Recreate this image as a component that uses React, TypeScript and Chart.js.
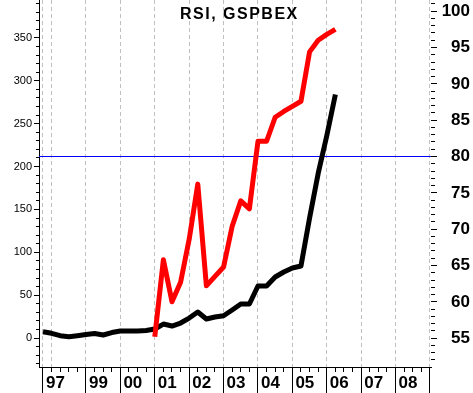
import React, { useEffect, useRef } from "react";
import { Chart, registerables } from "chart.js";

Chart.register(...registerables);

// ---------- data ----------
const chartTitle = "RSI, GSPBEX";

// GSPBEX (left axis), quarterly, decimal years
const gspbexDates = [
  1997.75, 1998, 1998.25, 1998.5, 1998.75,
  1999, 1999.25, 1999.5, 1999.75,
  2000, 2000.25, 2000.5, 2000.75,
  2001, 2001.25, 2001.5, 2001.75,
  2002, 2002.25, 2002.5, 2002.75,
  2003, 2003.25, 2003.5, 2003.75,
  2004, 2004.25, 2004.5, 2004.75,
  2005, 2005.25, 2005.5, 2005.75,
  2006, 2006.25,
];
const gspbexValues = [
  7.4, 5.5, 2.7, 1.5, 2.7,
  4.1, 5.3, 3.5, 6.4,
  8.2, 8.2, 8.2, 8.8,
  10.5, 16.3, 14, 17.5,
  23.3, 30.3, 22.2, 24.5,
  26, 32.7, 39.7, 39.7,
  60.7, 60.7, 71.2, 77,
  81.7, 84, 140, 192,
  236, 284,
];

// RSI (right axis)
const rsiDates = [
  2001, 2001.25, 2001.5, 2001.75,
  2002, 2002.25, 2002.5, 2002.75,
  2003, 2003.25, 2003.5, 2003.75,
  2004, 2004.25, 2004.5, 2004.75,
  2005, 2005.25, 2005.5, 2005.75,
  2006, 2006.25,
];
const rsiValues = [
  55.2, 65.8, 60.0, 62.7,
  68.6, 76.2, 62.2, 63.5,
  64.8, 70.4, 73.9, 72.8,
  82.1, 82.1, 85.4, 86.2,
  86.9, 87.6, 94.4, 96.0,
  96.8, 97.5,
];
const rsiLevel = 80;

// axes
const xRange = [1997.634, 2009.03];
const leftRange = [-33.8, 394.3];
const rightRange = [51.033, 101.537];

const yearTicks = [1997.75, 1999, 2000, 2001, 2002, 2003, 2004, 2005, 2006, 2007, 2008, 2009];
const yearLabels = ["97", "99", "00", "01", "02", "03", "04", "05", "06", "07", "08", ""];
const gridYears = [1997.75, 1998, 1999, 2000, 2001, 2002, 2003, 2004, 2005, 2006, 2007, 2008, 2009];

const leftLabels = [0, 50, 100, 150, 200, 250, 300, 350];
const rightLabels = [55, 60, 65, 70, 75, 80, 85, 90, 95, 100];

const FONT = '"Liberation Sans", Arial, Helvetica, sans-serif';

function quarterTicks(): number[] {
  const out: number[] = [];
  for (let q = 0; q <= 45; q++) out.push(Math.round((1997.75 + q * 0.25) * 4) / 4);
  return out;
}
function stepTicks(from: number, to: number, step: number): number[] {
  const out: number[] = [];
  for (let v = from; v <= to + 1e-9; v += step) out.push(Math.round(v * 1000) / 1000);
  return out;
}

const noPad = (s: any) => {
  s.paddingLeft = 0;
  s.paddingRight = 0;
  s.paddingTop = 0;
  s.paddingBottom = 0;
};

const titlePlugin = {
  id: "insideTitle",
  afterDraw(chart: any) {
    const ctx = chart.ctx;
    ctx.save();
    ctx.font = `bold 16px ${FONT}`;
    ctx.fillStyle = "#000";
    ctx.textAlign = "left";
    ctx.textBaseline = "alphabetic";
    try {
      (ctx as any).letterSpacing = "1.5px";
    } catch (e) {}
    ctx.fillText(chartTitle, 180, 18.5);
    ctx.restore();
  },
};

export default function App() {
  const canvasRef = useRef<HTMLCanvasElement | null>(null);

  useEffect(() => {
    if (!canvasRef.current) return;
    const chart = new Chart(canvasRef.current, {
      type: "line",
      data: {
        datasets: [
          {
            label: "RSI",
            data: rsiDates.map((d, i) => ({ x: d, y: rsiValues[i] })),
            yAxisID: "y2",
            borderColor: "#ff0000",
            borderWidth: 5,
            pointRadius: 0,
            tension: 0,
            borderJoinStyle: "round",
          },
          {
            label: "GSPBEX",
            data: gspbexDates.map((d, i) => ({ x: d, y: gspbexValues[i] })),
            yAxisID: "y",
            borderColor: "#000000",
            borderWidth: 5,
            pointRadius: 0,
            tension: 0,
            borderJoinStyle: "round",
          },
          {
            label: "RSI 80",
            data: [
              { x: xRange[0], y: rsiLevel },
              { x: xRange[1], y: rsiLevel },
            ],
            yAxisID: "y2",
            borderColor: "#0000ff",
            borderWidth: 1,
            pointRadius: 0,
          },
        ],
      },
      options: {
        animation: false,
        responsive: false,
        devicePixelRatio: 1,
        layout: { padding: { left: 0, top: 0, bottom: 0, right: 3 } },
        plugins: {
          legend: { display: false },
          title: { display: false },
          tooltip: { enabled: false },
        },
        scales: {
          x: {
            type: "linear",
            position: "bottom",
            min: xRange[0],
            max: xRange[1],
            bounds: "data",
            afterBuildTicks: (s: any) => {
              s.ticks = quarterTicks().map((v) => ({ value: v }));
            },
            afterFit: (s: any) => {
              s.height = 26;
              noPad(s);
            },
            border: { display: true, color: "#000", width: 1, dash: [4, 3] },
            grid: {
              drawOnChartArea: true,
              drawTicks: true,
              tickLength: 26,
              lineWidth: 1,
              color: (c: any) =>
                gridYears.includes(c.tick?.value) ? "#c0c0c0" : "rgba(0,0,0,0)",
              tickColor: "#000",
              tickWidth: 1,
              tickBorderDash: (c: any) =>
                yearTicks.includes(c.tick?.value) ? [] : [4, 100],
            },
            ticks: {
              autoSkip: false,
              maxRotation: 0,
              minRotation: 0,
              align: "start",
              labelOffset: 3,
              padding: -20,
              color: "#000",
              font: { family: FONT, size: 17, weight: "bold" },
              callback: (v: any) => {
                const i = yearTicks.indexOf(v);
                return i >= 0 ? yearLabels[i] : "";
              },
            },
          },
          y: {
            type: "linear",
            position: "left",
            min: leftRange[0],
            max: leftRange[1],
            bounds: "data",
            afterBuildTicks: (s: any) => {
              s.ticks = stepTicks(-30, 390, 10).map((v) => ({ value: v }));
            },
            afterFit: (s: any) => {
              s.width = 39;
              noPad(s);
            },
            border: { display: true, color: "#000", width: 1 },
            grid: {
              drawOnChartArea: false,
              drawTicks: true,
              tickLength: 5,
              tickColor: "#000",
              tickWidth: 1,
              tickBorderDash: (c: any) =>
                c.tick && c.tick.value % 50 === 0 ? [] : [0, 2, 3, 100],
            },
            ticks: {
              autoSkip: false,
              padding: 2,
              color: "#000",
              font: { family: FONT, size: 11 },
              callback: (v: any) => (leftLabels.includes(v) ? String(v) : ""),
            },
          },
          y2: {
            type: "linear",
            position: "right",
            min: rightRange[0],
            max: rightRange[1],
            bounds: "data",
            afterBuildTicks: (s: any) => {
              s.ticks = stepTicks(52, 101, 1).map((v) => ({ value: v }));
            },
            afterFit: (s: any) => {
              s.width = 39;
              noPad(s);
            },
            border: { display: false },
            grid: {
              drawOnChartArea: false,
              drawTicks: true,
              tickLength: 6,
              tickColor: "#000",
              tickWidth: 1,
              tickBorderDash: (c: any) =>
                c.tick && c.tick.value % 5 === 0 ? [] : [4, 100],
            },
            ticks: {
              autoSkip: false,
              padding: 4,
              crossAlign: "far",
              color: "#000",
              font: { family: FONT, size: 17, weight: "bold" },
              callback: (v: any) => (rightLabels.includes(v) ? String(v) : ""),
            },
          },
        },
      },
      plugins: [titlePlugin],
    } as any);
    return () => chart.destroy();
  }, []);

  return (
    <div
      style={{
        position: "fixed",
        left: 0,
        top: 0,
        width: 473,
        height: 393,
        background: "#fff",
      }}
    >
      <canvas ref={canvasRef} width={473} height={393} style={{ display: "block" }} />
    </div>
  );
}
